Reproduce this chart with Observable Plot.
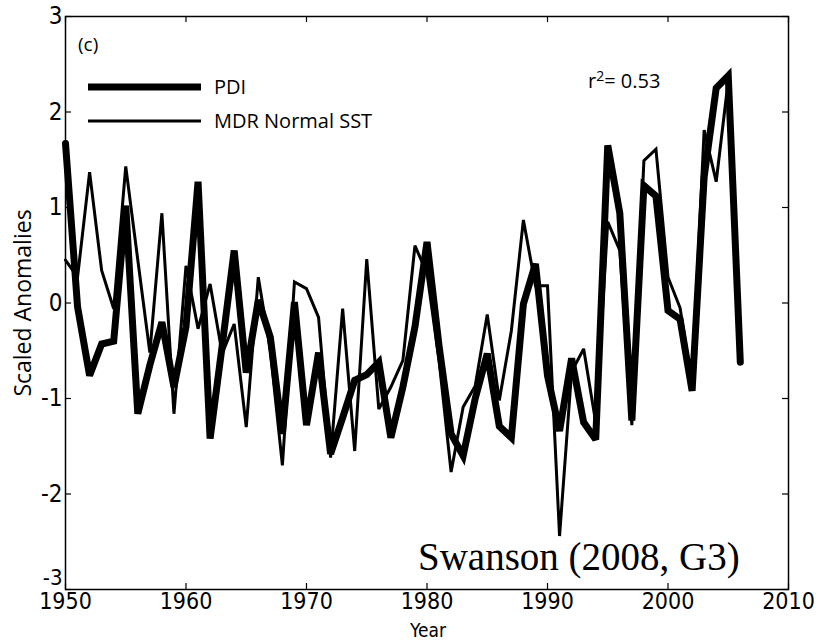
<!DOCTYPE html>
<html><head><meta charset="utf-8">
<script src="https://cdn.jsdelivr.net/npm/d3@7"></script>
<script src="https://cdn.jsdelivr.net/npm/@observablehq/plot@0.6"></script>
<style>
body{margin:0;background:#fff;}
#wrap{position:relative;width:826px;height:640px;font-family:"Open Sans",sans-serif;color:#000;}
.ov{position:absolute;white-space:nowrap;line-height:1;transform:translate(0,-50%);}
.c{transform:translate(-50%,-50%);}
</style></head><body><div id="wrap"></div>
<script>
const startYear = 1950;
// PDI (thick line), 1950-2006
const pdi = [1.67,-0.04,-0.76,-0.43,-0.40,1.02,-1.16,-0.65,-0.20,-0.88,
  -0.25,1.27,-1.42,-0.45,0.55,-0.73,0.03,-0.36,-1.37,0.01,
  -1.28,-0.52,-1.58,-1.20,-0.81,-0.75,-0.62,-1.41,-0.88,-0.25,
  0.64,-0.45,-1.37,-1.60,-1.00,-0.53,-1.29,-1.41,-0.01,0.41,
  -0.76,-1.34,-0.58,-1.25,-1.43,1.65,0.94,-1.23,1.23,1.12,
  -0.08,-0.17,-0.92,1.32,2.25,2.38,-0.62];
// MDR Normal SST (thin line), 1950-2005
const sst = [0.45,0.27,1.37,0.34,-0.06,1.43,0.45,-0.52,0.94,-1.16,
  0.39,-0.27,0.20,-0.53,-0.22,-1.30,0.27,-0.50,-1.70,0.22,
  0.15,-0.15,-1.62,-0.06,-1.55,0.46,-1.11,-0.88,-0.60,0.60,
  0.31,-0.60,-1.77,-1.09,-0.87,-0.12,-1.02,-0.29,0.87,0.18,
  0.18,-2.44,-0.72,-0.48,-1.25,0.85,0.55,-1.28,1.49,1.61,
  0.27,-0.05,-0.85,1.81,1.27,2.33];
const xTicks = [1950,1960,1970,1980,1990,2000,2010];
const yTicks = [-3,-2,-1,0,1,2,3];
const seriesNames = ["PDI","MDR Normal SST"];
const r2Text = "0.53";
const panelLabel = "(c)";
const citation = "Swanson (2008, G3)";
const xLabel = "Year";
const yLabel = "Scaled Anomalies";

const W = 826, H = 640, mL = 65, mR = 38, mT = 16, mB = 51;
const innerW = W - mL - mR, innerH = H - mT - mB;
const narrow = "'Liberation Sans Narrow', 'DejaVu Sans Condensed', 'Open Sans', sans-serif";

const pdiData = pdi.map((v,i)=>({year:startYear+i, value:v}));
const sstData = sst.map((v,i)=>({year:startYear+i, value:v}));
const fmt = d => String(d);

const chart = Plot.plot({
  width: W, height: H,
  marginLeft: mL, marginRight: mR, marginTop: mT, marginBottom: mB,
  style: {fontFamily: narrow, fontSize: "24px", color: "black", background: "white"},
  x: {domain: [1950, 2010]},
  y: {domain: [-3, 3]},
  marks: [
    Plot.axisX(xTicks, {anchor: "bottom", tickSize: 0, tickPadding: 3, label: null, tickFormat: fmt, fontSize: 23}),
    Plot.axisY(yTicks.filter(d => d > -3), {anchor: "left", tickSize: 0, tickPadding: 3, label: null, tickFormat: fmt, fontSize: 24}),
    Plot.axisY(yTicks.filter(d => d === -3), {anchor: "left", tickSize: 0, tickPadding: 3, label: null, tickFormat: fmt, fontSize: 22, dy: -12}),
    Plot.ruleX(xTicks, {x: d => d, insetTop: innerH - 6, stroke: "black", strokeWidth: 1.2}),
    Plot.ruleX(xTicks, {x: d => d, insetBottom: innerH - 6, stroke: "black", strokeWidth: 1.2}),
    Plot.ruleY(yTicks, {y: d => d, insetRight: innerW - 6, stroke: "black", strokeWidth: 1.2}),
    Plot.ruleY(yTicks, {y: d => d, insetLeft: innerW - 6, stroke: "black", strokeWidth: 1.2}),
    Plot.line(sstData, {x: "year", y: "value", stroke: "black", strokeWidth: 3, strokeLinejoin: "miter", strokeMiterlimit: 3}),
    Plot.line(pdiData, {x: "year", y: "value", stroke: "black", strokeWidth: 7, strokeLinejoin: "miter", strokeMiterlimit: 3}),
    Plot.frame({stroke: "black", strokeWidth: 1.5})
  ]
});
const wrap = document.getElementById("wrap");
wrap.appendChild(chart);

function ov(html, left, top, css, cls) {
  const d = document.createElement("div");
  d.className = "ov" + (cls ? " " + cls : "");
  d.innerHTML = html;
  d.style.left = left + "px"; d.style.top = top + "px";
  Object.assign(d.style, css || {});
  wrap.appendChild(d);
  return d;
}
// legend
ov(`<svg width="113" height="10" style="display:block"><line x1="0" x2="113" y1="5" y2="5" stroke="black" stroke-width="7"/></svg>`, 88, 87);
ov(seriesNames[0], 214, 87, {fontSize: "20px"});
ov(`<svg width="113" height="6" style="display:block"><line x1="0" x2="113" y1="3" y2="3" stroke="black" stroke-width="3"/></svg>`, 88, 121);
ov(seriesNames[1], 214, 121, {fontSize: "20px"});
ov(`r<sup style="font-size:14px;vertical-align:7px">2</sup>= ${r2Text}`, 588, 80, {fontSize: "20px"});
ov(panelLabel, 78, 44, {fontSize: "19px"});
ov(citation, 418, 556, {fontSize: "39px", fontFamily: "'Liberation Serif', 'DejaVu Serif', serif"});
ov(xLabel, 428, 630, {fontSize: "19px", fontFamily: narrow}, "c");
ov(yLabel, 22, 303, {fontSize: "23px", transform: "translate(-50%,-50%) rotate(-90deg)"});
</script></body></html>
